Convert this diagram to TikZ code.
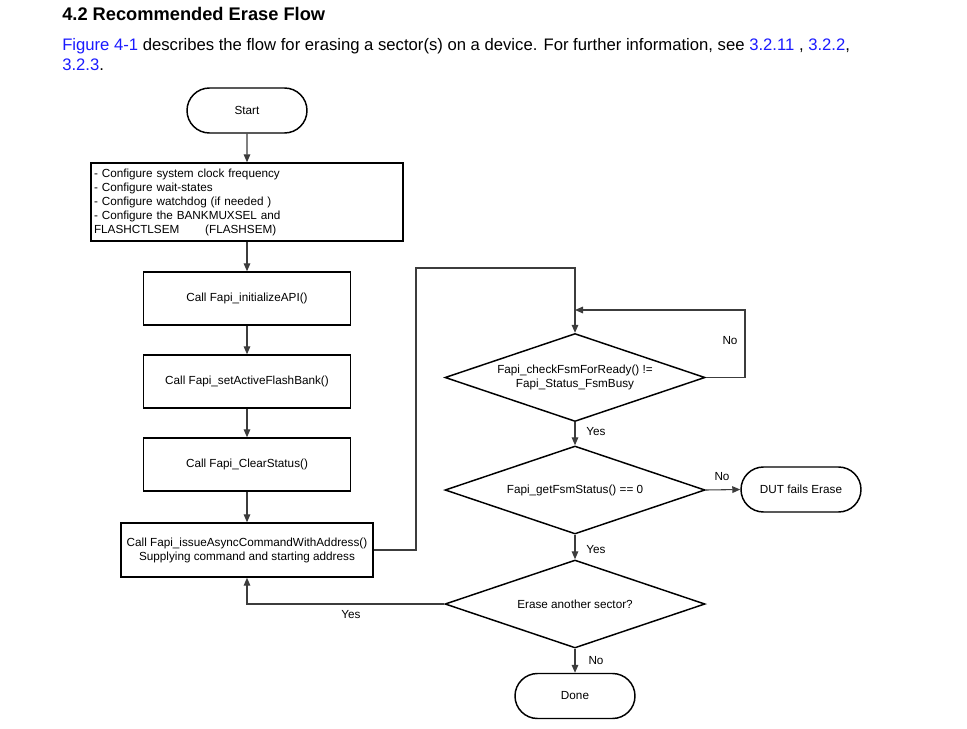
\documentclass[tikz,border=0pt]{standalone}
\usepackage{fontspec}
\setmainfont{Liberation Sans}
\usepackage{tikz}
\usetikzlibrary{shapes, arrows.meta, positioning}

\definecolor{linkblue}{RGB}{26,26,255}
\definecolor{wiregray}{RGB}{60,60,60}

\begin{document}
\begin{tikzpicture}[
        x=0.75pt, y=-0.75pt,
        every node/.style={align=center, font=\fontsize{8.8}{10.5}\selectfont},
        terminal/.style={draw, line width=1.1pt, rounded rectangle, minimum width=90pt, minimum height=33.75pt, inner sep=0pt},
        process/.style={draw, line width=1.1pt, rectangle, minimum width=155.25pt, minimum height=39.75pt, inner sep=0pt},
        decision/.style={draw, line width=1.1pt, diamond, aspect=2.9, minimum width=195pt, minimum height=66pt, inner sep=0pt},
        line/.style={draw=wiregray, line width=0.8pt, -{Triangle[length=6pt, width=5pt]}},
        lbl/.style={font=\fontsize{8.8}{10.5}\selectfont},
        para/.style={anchor=base west, inner sep=0pt, font=\fontsize{12.5}{15}\selectfont}
    ]
        \useasboundingbox (0,0) rectangle (967,728);

        % heading and text
        \node[anchor=base west, inner sep=0pt, font=\bfseries\fontsize{13.7}{16}\selectfont] (title) at (62,21) {4.2 Recommended Erase Flow};
        \node[para] (intro) at (62,50)
            {\textcolor{linkblue}{Figure 4-1} describes the flow for erasing a sector(s) on a device. For further information, see \textcolor{linkblue}{3.2.11} , \textcolor{linkblue}{3.2.2},};
        \node[para] (introEnd) at (62,70) {\textcolor{linkblue}{3.2.3}.};

        % left column
        \node[terminal] (start) at (247,110.5) {Start};
        \node[draw, line width=1.1pt, minimum width=234pt, minimum height=58.5pt, text width=229.5pt, inner xsep=2.25pt, inner ysep=0pt, align=left] (config) at (247,202)
            {- Configure system clock frequency\\
             - Configure wait-states\\
             - Configure watchdog (if needed )\\
             - Configure the BANKMUXSEL and\\
             FLASHCTLSEM\hspace{2.2em}(FLASHSEM)};
        \node[process] (init) at (247,298.5) {Call Fapi\_initializeAPI()};
        \node[process] (bank) at (247,381.5) {Call Fapi\_setActiveFlashBank()};
        \node[process] (clear) at (247,464.5) {Call Fapi\_ClearStatus()};
        \node[process, minimum width=189pt, minimum height=40.5pt] (issue) at (247,550)
            {Call Fapi\_issueAsyncCommandWithAddress()\\Supplying command and starting address};

        % right column
        \node[decision] (ready) at (575,377.5) {Fapi\_checkFsmForReady() !=\\Fapi\_Status\_FsmBusy};
        \node[decision] (status) at (575,490) {Fapi\_getFsmStatus() == 0};
        \node[decision] (another) at (575,604) {Erase another sector?};
        \node[terminal] (fail) at (801,489.5) {DUT fails Erase};
        \node[terminal] (done) at (575,696) {Done};

        \coordinate (loopTop) at (416,268);
        \coordinate (busyTurn) at (745,310);
        \coordinate (busyJoin) at (575,310);

        % connectors
        \draw[line] (start) -- (config);
        \draw[line] (config) -- (init);
        \draw[line] (init) -- (bank);
        \draw[line] (bank) -- (clear);
        \draw[line] (clear) -- (issue);
        \draw[line] (issue.east) -| (loopTop) -| (ready.north);
        \draw[line] (ready.east) -| (busyTurn) -- (busyJoin);
        \draw[line] (ready.south) -- (status.north);
        \draw[line] (status.east) -- (fail.west);
        \draw[line] (status.south) -- (another.north);
        \draw[line] (another.west) -| (issue.south);
        \draw[line] (another.south) -- (done.north);

        % labels
        \node[lbl] (noBusy) at (730,341) {No};
        \node[lbl] (yesReady) at (596,432) {Yes};
        \node[lbl] (noStatus) at (722,477) {No};
        \node[lbl] (yesStatus) at (596,550) {Yes};
        \node[lbl] (yesAgain) at (351,615) {Yes};
        \node[lbl] (noAgain) at (596,661) {No};
    \end{tikzpicture}
\end{document}
